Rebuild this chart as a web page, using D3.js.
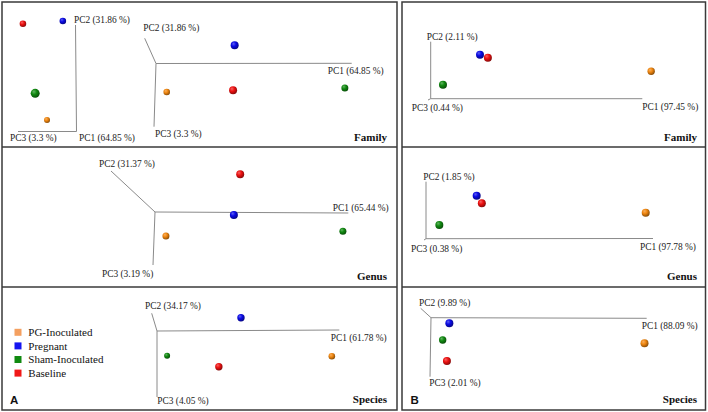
<!DOCTYPE html>
<html><head><meta charset="utf-8">
<script src="https://cdn.jsdelivr.net/npm/d3@7"></script>
<style>html,body{margin:0;padding:0;background:#fff;} svg{display:block;}
.sf{font-family:"Liberation Serif","DejaVu Serif","Times New Roman",Times,serif;}
.ss{font-family:"Liberation Sans","DejaVu Sans",Arial,sans-serif;}
</style>
</head><body><svg id="c" width="708" height="412"></svg>
<script>
// ---------- DATA ----------
const groups = ["PG-Inoculated", "Pregnant", "Sham-Inoculated", "Baseline"];
const levels = ["Family", "Genus", "Species"];
const panelLetters = ["A", "B"];
// projected PCoA coordinates (percent of sub-panel width / height), group order as above
const familyA1X = [11.4, 15.4, 8.4, 5.3];
const familyA1Y = [81.4, 13.1, 63.0, 15.0];
const familyA2X = [41.7, 58.9, 86.8, 58.5];
const familyA2Y = [62.1, 29.9, 59.3, 60.9];
const genusAX = [41.5, 58.7, 86.3, 60.3];
const genusAY = [63.6, 48.6, 60.2, 19.5];
const speciesAX = [83.5, 60.5, 41.8, 54.9];
const speciesAY = [56.3, 25.0, 55.9, 64.8];
const familyBX = [82.1, 25.7, 13.5, 28.3];
const familyBY = [47.8, 36.3, 57.0, 38.4];
const genusBX = [80.3, 24.6, 12.3, 26.3];
const genusBY = [46.9, 34.8, 55.7, 40.2];
const speciesBX = [79.9, 15.6, 13.4, 14.8];
const speciesBY = [45.8, 29.5, 43.1, 60.2];
// axis labels (PC1, PC2, PC3)
const familyAAxes = ["PC1 (64.85 %)", "PC2 (31.86 %)", "PC3 (3.3 %)"];
const genusAAxes = ["PC1 (65.44 %)", "PC2 (31.37 %)", "PC3 (3.19 %)"];
const speciesAAxes = ["PC1 (61.78 %)", "PC2 (34.17 %)", "PC3 (4.05 %)"];
const familyBAxes = ["PC1 (97.45 %)", "PC2 (2.11 %)", "PC3 (0.44 %)"];
const genusBAxes = ["PC1 (97.78 %)", "PC2 (1.85 %)", "PC3 (0.38 %)"];
const speciesBAxes = ["PC1 (88.09 %)", "PC2 (9.89 %)", "PC3 (2.01 %)"];

// ---------- STYLE / LAYOUT ----------
const sphereColors = ["#f0860f", "#0a0ae6", "#118a11", "#ee1111"];
const legendColors = ["#f4a060", "#1414f0", "#108a10", "#f01818"];
const cols = [{x0: 2, w: 395}, {x0: 402, w: 303.5}];
const rows = [{y0: 2, h: 145}, {y0: 147, h: 140}, {y0: 287, h: 123}];

// axis geometry in sub-panel local pixels: origin, PC1/PC2/PC3 ends, label anchors
const plots = [
  {col: 0, row: 0, xs: familyA1X, ys: familyA1Y, labels: familyAAxes, r: [3, 3.3, 4.5, 3.3],
   o: [74.5, 129.5], e: [[74.5, 129.5], [73.5, 23], [16, 129.5]], l: [[77, 139], [72, 21], [8, 139]]},
  {col: 0, row: 0, xs: familyA2X, ys: familyA2Y, labels: familyAAxes, r: [3.3, 4, 3.5, 4],
   o: [154, 61.5], e: [[349.7, 61.3], [142.7, 36.3], [152, 124.7]], l: [[325.7, 72], [141.3, 28.7], [153, 135]]},
  {col: 0, row: 1, xs: genusAX, ys: genusAY, labels: genusAAxes, r: [3.5, 4, 3.5, 4],
   o: [153, 65], e: [[346.3, 66], [109, 24], [151, 118]], l: [[330.7, 64], [97, 20], [100, 130]]},
  {col: 0, row: 2, xs: speciesAX, ys: speciesAY, labels: speciesAAxes, r: [3.3, 3.7, 3, 3.7],
   o: [155, 44], e: [[337.3, 43], [149.7, 26.3], [155, 110]], l: [[328.7, 54], [143, 22], [155.3, 117]]},
  {col: 1, row: 0, xs: familyBX, ys: familyBY, labels: familyBAxes, r: [3.7, 4, 4, 4],
   o: [28.7, 96.7], e: [[240.3, 96.7], [28.7, 39.7], [26, 98]], l: [[240.3, 108], [24.7, 38], [9.7, 109]]},
  {col: 1, row: 1, xs: genusBX, ys: genusBY, labels: genusBAxes, r: [4, 4, 4, 4],
   o: [24, 91.7], e: [[251, 91.5], [24, 34.7], [22, 93]], l: [[238, 103], [21.3, 33], [9, 105]]},
  {col: 1, row: 2, xs: speciesBX, ys: speciesBY, labels: speciesBAxes, r: [4, 4, 3.7, 4],
   o: [29, 30.7], e: [[244.7, 31.3], [18.7, 21.3], [28, 89.7]], l: [[239.7, 42], [17, 18.5], [27.3, 98.5]]}
];

const svg = d3.select("#c");
const defs = svg.append("defs");
sphereColors.forEach((c, i) => {
  const g = defs.append("radialGradient").attr("id", "sph" + i)
    .attr("cx", "40%").attr("cy", "38%").attr("r", "65%").attr("fx", "35%").attr("fy", "30%");
  g.append("stop").attr("offset", "0%").attr("stop-color", d3.interpolateRgb(c, "#fff")(0.35));
  g.append("stop").attr("offset", "45%").attr("stop-color", c);
  g.append("stop").attr("offset", "100%").attr("stop-color", d3.interpolateRgb(c, "#000")(0.45));
});

// panel frames
cols.forEach(c => {
  svg.append("rect").attr("x", c.x0).attr("y", rows[0].y0).attr("width", c.w)
    .attr("height", rows[2].y0 + rows[2].h - rows[0].y0)
    .attr("fill", "none").attr("stroke", "#3a3a3a").attr("stroke-width", 1.5);
  rows.slice(1).forEach(r => {
    svg.append("line").attr("x1", c.x0).attr("x2", c.x0 + c.w).attr("y1", r.y0).attr("y2", r.y0)
      .attr("stroke", "#3a3a3a").attr("stroke-width", 1.5);
  });
});

plots.forEach(p => {
  const c = cols[p.col], rw = rows[p.row];
  const x = d3.scaleLinear().domain([0, 100]).range([c.x0, c.x0 + c.w]);
  const y = d3.scaleLinear().domain([0, 100]).range([rw.y0, rw.y0 + rw.h]);
  const g = svg.append("g");
  const lx = v => c.x0 + v, ly = v => rw.y0 + v;
  p.e.forEach(e => {
    g.append("line").attr("x1", lx(p.o[0])).attr("y1", ly(p.o[1]))
      .attr("x2", lx(e[0])).attr("y2", ly(e[1]))
      .attr("stroke", "#8a8a8a").attr("stroke-width", 1);
  });
  p.labels.forEach((t, i) => {
    g.append("text").attr("class", "sf").attr("x", lx(p.l[i][0])).attr("y", ly(p.l[i][1]))
      .style("font-size", "9.4px").attr("fill", "#222").text(t);
  });
  const pts = groups.map((gname, i) => ({i, x: p.xs[i], y: p.ys[i], r: p.r[i]}));
  g.selectAll("circle").data(pts).enter().append("circle")
    .attr("cx", d => x(d.x)).attr("cy", d => y(d.y)).attr("r", d => d.r)
    .attr("fill", d => "url(#sph" + d.i + ")");
});

// level titles
cols.forEach((c, ci) => {
  rows.forEach((r, ri) => {
    svg.append("text").attr("class", "sf").attr("x", c.x0 + c.w - (ci === 0 ? 10 : 8.5))
      .attr("y", r.y0 + [139, 133, 116][ri])
      .attr("text-anchor", "end").style("font-weight", "bold")
      .style("font-size", "11px").attr("fill", "#111").text(levels[ri]);
  });
  svg.append("text").attr("class", "ss").attr("x", c.x0 + (ci === 0 ? 8 : 8.5)).attr("y", 404)
    .style("font-weight", "bold").style("font-size", "11.5px")
    .attr("fill", "#111").text(panelLetters[ci]);
});

// legend
const lg = svg.append("g");
groups.forEach((gname, i) => {
  const cy = 332.3 + i * 13.6;
  lg.append("rect").attr("x", 14.5).attr("y", cy - 3.5).attr("width", 7).attr("height", 7)
    .attr("fill", legendColors[i]);
  lg.append("text").attr("class", "sf").attr("x", 28.3).attr("y", cy + 3.8)
    .style("font-size", "11px").attr("fill", "#111").text(gname);
});
</script></body></html>
